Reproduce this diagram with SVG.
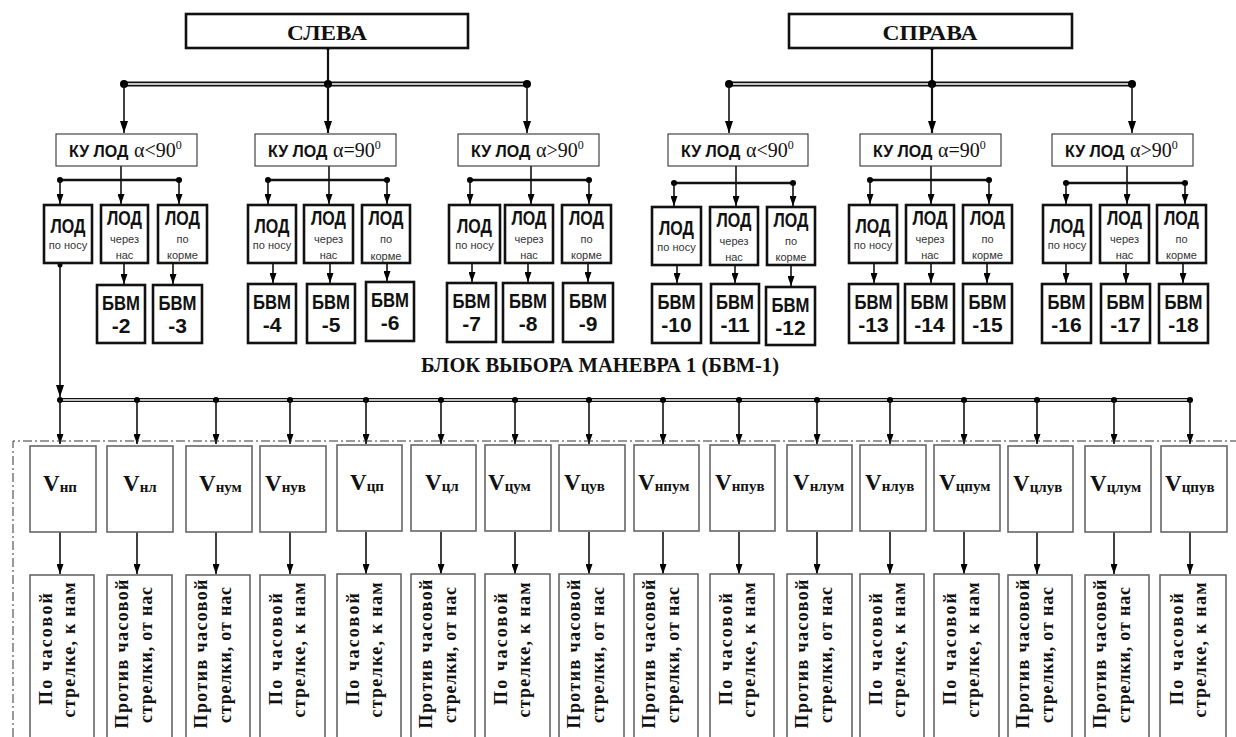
<svg xmlns="http://www.w3.org/2000/svg" width="1236" height="737" viewBox="0 0 1236 737">
<defs>
<style>
.bx2{fill:#fff;stroke:#111;stroke-width:2.6}
.bx1{fill:#fff;stroke:#333;stroke-width:1.1}
.bxv{fill:#fff;stroke:#666;stroke-width:1.6}
.ln{stroke:#111;stroke-width:1.6;fill:none}
.ln2{stroke:#111;stroke-width:2.2;fill:none}
.bus{stroke:#111;stroke-width:2.6;fill:none}
.dbl{stroke:#111;stroke-width:5;fill:none}
.dbls{stroke:#111;stroke-width:4;fill:none}
.dblw{stroke:#fff;stroke-width:1.4;fill:none}
.dot{fill:#000}
.frame{fill:none;stroke:#333;stroke-width:1;stroke-dasharray:9 3 2 3}
.tb{font-family:"Liberation Serif","Times New Roman",serif;font-weight:bold;fill:#111}
.tr{font-family:"Liberation Serif","Times New Roman",serif;font-weight:normal;fill:#111}
.ab{font-family:"Liberation Sans",Arial,sans-serif;font-weight:bold;fill:#111}
.as{font-family:"Liberation Sans",Arial,sans-serif;fill:#333;font-size:11px}
.c{text-anchor:middle}
</style>
<marker id="ah" markerUnits="userSpaceOnUse" markerWidth="12" markerHeight="8" viewBox="0 0 12 8" refX="12" refY="4" orient="auto"><path d="M0,0 L12,4 L0,8 z" fill="#000"/></marker>
<marker id="as" markerUnits="userSpaceOnUse" markerWidth="10" markerHeight="7" viewBox="0 0 10 7" refX="10" refY="3.5" orient="auto"><path d="M0,0 L10,3.5 L0,7 z" fill="#000"/></marker>
</defs>
<rect width="1236" height="737" fill="#fff"/>

<g id="connectors">
  <line class="ln2" x1="328" y1="48" x2="328" y2="84"/>
  <line class="dbl" x1="124" y1="84" x2="527" y2="84"/>
  <line class="dblw" x1="124" y1="84" x2="527" y2="84"/>
  <circle class="dot" cx="328" cy="48" r="2"/>
  <circle class="dot" cx="124" cy="84" r="4"/>
  <circle class="dot" cx="328" cy="84" r="4"/>
  <circle class="dot" cx="527" cy="84" r="4"/>
  <line class="ln" x1="124" y1="84" x2="124" y2="133" marker-end="url(#ah)"/>
  <line class="ln2" x1="328" y1="84" x2="328" y2="133" marker-end="url(#ah)"/>
  <line class="ln" x1="527" y1="84" x2="527" y2="133" marker-end="url(#ah)"/>
  <line class="ln2" x1="932" y1="48" x2="932" y2="84"/>
  <line class="dbl" x1="729" y1="84" x2="1132" y2="84"/>
  <line class="dblw" x1="729" y1="84" x2="1132" y2="84"/>
  <circle class="dot" cx="932" cy="48" r="2"/>
  <circle class="dot" cx="729" cy="84" r="4"/>
  <circle class="dot" cx="932" cy="84" r="4"/>
  <circle class="dot" cx="1132" cy="84" r="4"/>
  <line class="ln" x1="729" y1="84" x2="729" y2="133" marker-end="url(#ah)"/>
  <line class="ln2" x1="932" y1="84" x2="932" y2="133" marker-end="url(#ah)"/>
  <line class="ln" x1="1132" y1="84" x2="1132" y2="133" marker-end="url(#ah)"/>

  <line class="ln" x1="121" y1="166" x2="121" y2="204" marker-end="url(#as)"/>
  <line class="bus" x1="60" y1="180" x2="179" y2="180"/>
  <circle class="dot" cx="60" cy="180" r="3"/><circle class="dot" cx="179" cy="180" r="3"/>
  <line class="ln" x1="60" y1="180" x2="60" y2="204" marker-end="url(#as)"/>
  <line class="ln" x1="179" y1="180" x2="179" y2="204" marker-end="url(#as)"/>

  <line class="ln" x1="329" y1="166" x2="329" y2="204" marker-end="url(#as)"/>
  <line class="bus" x1="268" y1="180" x2="387" y2="180"/>
  <circle class="dot" cx="268" cy="180" r="3"/><circle class="dot" cx="387" cy="180" r="3"/>
  <line class="ln" x1="268" y1="180" x2="268" y2="204" marker-end="url(#as)"/>
  <line class="ln" x1="387" y1="180" x2="387" y2="204" marker-end="url(#as)"/>

  <line class="ln" x1="531" y1="166" x2="531" y2="204" marker-end="url(#as)"/>
  <line class="bus" x1="470" y1="180" x2="589" y2="180"/>
  <circle class="dot" cx="470" cy="180" r="3"/><circle class="dot" cx="589" cy="180" r="3"/>
  <line class="ln" x1="470" y1="180" x2="470" y2="204" marker-end="url(#as)"/>
  <line class="ln" x1="589" y1="180" x2="589" y2="204" marker-end="url(#as)"/>

  <line class="ln" x1="736" y1="166" x2="736" y2="206" marker-end="url(#as)"/>
  <line class="bus" x1="674" y1="183" x2="793" y2="183"/>
  <circle class="dot" cx="674" cy="183" r="3"/><circle class="dot" cx="793" cy="183" r="3"/>
  <line class="ln" x1="674" y1="183" x2="674" y2="206" marker-end="url(#as)"/>
  <line class="ln" x1="793" y1="183" x2="793" y2="206" marker-end="url(#as)"/>

  <line class="ln" x1="931" y1="166" x2="931" y2="204" marker-end="url(#as)"/>
  <line class="bus" x1="870" y1="180" x2="989" y2="180"/>
  <circle class="dot" cx="870" cy="180" r="3"/><circle class="dot" cx="989" cy="180" r="3"/>
  <line class="ln" x1="870" y1="180" x2="870" y2="204" marker-end="url(#as)"/>
  <line class="ln" x1="989" y1="180" x2="989" y2="204" marker-end="url(#as)"/>

  <line class="ln" x1="1127" y1="166" x2="1127" y2="204" marker-end="url(#as)"/>
  <line class="bus" x1="1066" y1="183" x2="1185" y2="183"/>
  <circle class="dot" cx="1066" cy="183" r="3"/><circle class="dot" cx="1185" cy="183" r="3"/>
  <line class="ln" x1="1066" y1="183" x2="1066" y2="204" marker-end="url(#as)"/>
  <line class="ln" x1="1185" y1="183" x2="1185" y2="204" marker-end="url(#as)"/>

  <line class="ln" x1="124" y1="263" x2="124" y2="284" marker-end="url(#as)"/>
  <line class="ln" x1="173" y1="263" x2="173" y2="284" marker-end="url(#as)"/>
  <line class="ln" x1="273" y1="263" x2="273" y2="283" marker-end="url(#as)"/>
  <line class="ln" x1="330" y1="263" x2="330" y2="283" marker-end="url(#as)"/>
  <line class="ln" x1="387" y1="263" x2="387" y2="281" marker-end="url(#as)"/>
  <line class="ln" x1="472" y1="263" x2="472" y2="282" marker-end="url(#as)"/>
  <line class="ln" x1="528" y1="263" x2="528" y2="282" marker-end="url(#as)"/>
  <line class="ln" x1="588" y1="263" x2="588" y2="282" marker-end="url(#as)"/>
  <line class="ln" x1="677" y1="265" x2="677" y2="283" marker-end="url(#as)"/>
  <line class="ln" x1="735" y1="265" x2="735" y2="283" marker-end="url(#as)"/>
  <line class="ln" x1="791" y1="265" x2="791" y2="286" marker-end="url(#as)"/>
  <line class="ln" x1="874" y1="263" x2="874" y2="283" marker-end="url(#as)"/>
  <line class="ln" x1="931" y1="263" x2="931" y2="283" marker-end="url(#as)"/>
  <line class="ln" x1="987" y1="263" x2="987" y2="283" marker-end="url(#as)"/>
  <line class="ln" x1="1066" y1="263" x2="1066" y2="283" marker-end="url(#as)"/>
  <line class="ln" x1="1126" y1="263" x2="1126" y2="283" marker-end="url(#as)"/>
  <line class="ln" x1="1183" y1="263" x2="1183" y2="283" marker-end="url(#as)"/>

  <circle class="dot" cx="60" cy="265" r="2.5"/>
  <line class="ln" x1="60" y1="265" x2="60" y2="397" marker-end="url(#ah)"/>

  <line class="dbls" x1="60" y1="400" x2="1191" y2="400"/>
  <line class="dblw" x1="60" y1="400" x2="1191" y2="400"/>
  <g>
    <circle class="dot" cx="60" cy="400" r="3"/><circle class="dot" cx="137" cy="400" r="3"/><circle class="dot" cx="216" cy="400" r="3"/><circle class="dot" cx="290" cy="400" r="3"/>
    <circle class="dot" cx="366" cy="400" r="3"/><circle class="dot" cx="441" cy="400" r="3"/><circle class="dot" cx="515" cy="400" r="3"/><circle class="dot" cx="589" cy="400" r="3"/>
    <circle class="dot" cx="663" cy="400" r="3"/><circle class="dot" cx="739" cy="400" r="3"/><circle class="dot" cx="817" cy="400" r="3"/><circle class="dot" cx="890" cy="400" r="3"/>
    <circle class="dot" cx="964" cy="400" r="3"/><circle class="dot" cx="1037" cy="400" r="3"/><circle class="dot" cx="1114" cy="400" r="3"/><circle class="dot" cx="1190" cy="400" r="3"/>
  </g>
  <g>
    <line class="ln" x1="60" y1="400" x2="60" y2="444" marker-end="url(#as)"/>
    <line class="ln" x1="137" y1="400" x2="137" y2="444" marker-end="url(#as)"/>
    <line class="ln" x1="216" y1="400" x2="216" y2="444" marker-end="url(#as)"/>
    <line class="ln" x1="290" y1="400" x2="290" y2="444" marker-end="url(#as)"/>
    <line class="ln" x1="366" y1="400" x2="366" y2="444" marker-end="url(#as)"/>
    <line class="ln" x1="441" y1="400" x2="441" y2="444" marker-end="url(#as)"/>
    <line class="ln" x1="515" y1="400" x2="515" y2="444" marker-end="url(#as)"/>
    <line class="ln" x1="589" y1="400" x2="589" y2="444" marker-end="url(#as)"/>
    <line class="ln" x1="663" y1="400" x2="663" y2="444" marker-end="url(#as)"/>
    <line class="ln" x1="739" y1="400" x2="739" y2="444" marker-end="url(#as)"/>
    <line class="ln" x1="817" y1="400" x2="817" y2="444" marker-end="url(#as)"/>
    <line class="ln" x1="890" y1="400" x2="890" y2="444" marker-end="url(#as)"/>
    <line class="ln" x1="964" y1="400" x2="964" y2="444" marker-end="url(#as)"/>
    <line class="ln" x1="1037" y1="400" x2="1037" y2="444" marker-end="url(#as)"/>
    <line class="ln" x1="1114" y1="400" x2="1114" y2="444" marker-end="url(#as)"/>
    <line class="ln" x1="1190" y1="400" x2="1190" y2="444" marker-end="url(#as)"/>
  </g>
  <g>
    <line class="ln" x1="60" y1="532" x2="60" y2="574" marker-end="url(#as)"/>
    <line class="ln" x1="137" y1="532" x2="137" y2="574" marker-end="url(#as)"/>
    <line class="ln" x1="216" y1="532" x2="216" y2="574" marker-end="url(#as)"/>
    <line class="ln" x1="290" y1="532" x2="290" y2="574" marker-end="url(#as)"/>
    <line class="ln" x1="366" y1="532" x2="366" y2="574" marker-end="url(#as)"/>
    <line class="ln" x1="441" y1="532" x2="441" y2="574" marker-end="url(#as)"/>
    <line class="ln" x1="515" y1="532" x2="515" y2="574" marker-end="url(#as)"/>
    <line class="ln" x1="589" y1="532" x2="589" y2="574" marker-end="url(#as)"/>
    <line class="ln" x1="663" y1="532" x2="663" y2="574" marker-end="url(#as)"/>
    <line class="ln" x1="739" y1="532" x2="739" y2="574" marker-end="url(#as)"/>
    <line class="ln" x1="817" y1="532" x2="817" y2="574" marker-end="url(#as)"/>
    <line class="ln" x1="890" y1="532" x2="890" y2="574" marker-end="url(#as)"/>
    <line class="ln" x1="964" y1="532" x2="964" y2="574" marker-end="url(#as)"/>
    <line class="ln" x1="1037" y1="532" x2="1037" y2="574" marker-end="url(#as)"/>
    <line class="ln" x1="1114" y1="532" x2="1114" y2="574" marker-end="url(#as)"/>
    <line class="ln" x1="1190" y1="532" x2="1190" y2="574" marker-end="url(#as)"/>
  </g>
</g>

<path id="frame" class="frame" d="M13,737 L13,441 L1236,441"/>

<g id="sleva"><rect class="bx2" x="186" y="14" width="282" height="34"/><text class="tb c" x="327" y="40" font-size="21" textLength="80" lengthAdjust="spacingAndGlyphs">СЛЕВА</text></g>
<g id="sprava"><rect class="bx2" x="789" y="14" width="283" height="34"/><text class="tb c" x="930" y="40" font-size="21" textLength="95" lengthAdjust="spacingAndGlyphs">СПРАВА</text></g>

<g id="ku1"><rect class="bx1" x="56" y="134" width="141" height="32"/><text x="69" y="157"><tspan class="ab" font-size="16">КУ ЛОД</tspan><tspan class="tr" font-size="20" x="134">α&lt;90</tspan><tspan class="tr" font-size="12" dy="-8">0</tspan></text></g>
<g id="ku2"><rect class="bx1" x="255" y="134" width="141" height="32"/><text x="268" y="157"><tspan class="ab" font-size="16">КУ ЛОД</tspan><tspan class="tr" font-size="20" x="333">α=90</tspan><tspan class="tr" font-size="12" dy="-8">0</tspan></text></g>
<g id="ku3"><rect class="bx1" x="458" y="134" width="141" height="32"/><text x="471" y="157"><tspan class="ab" font-size="16">КУ ЛОД</tspan><tspan class="tr" font-size="20" x="536">α&gt;90</tspan><tspan class="tr" font-size="12" dy="-8">0</tspan></text></g>
<g id="ku4"><rect class="bx1" x="668" y="134" width="140" height="32"/><text x="681" y="157"><tspan class="ab" font-size="16">КУ ЛОД</tspan><tspan class="tr" font-size="20" x="746">α&lt;90</tspan><tspan class="tr" font-size="12" dy="-8">0</tspan></text></g>
<g id="ku5"><rect class="bx1" x="860" y="134" width="141" height="32"/><text x="873" y="157"><tspan class="ab" font-size="16">КУ ЛОД</tspan><tspan class="tr" font-size="20" x="938">α=90</tspan><tspan class="tr" font-size="12" dy="-8">0</tspan></text></g>
<g id="ku6"><rect class="bx1" x="1052" y="134" width="141" height="32"/><text x="1065" y="157"><tspan class="ab" font-size="16">КУ ЛОД</tspan><tspan class="tr" font-size="20" x="1130">α&gt;90</tspan><tspan class="tr" font-size="12" dy="-8">0</tspan></text></g>

<g id="lod1n"><rect class="bx2" x="44" y="205" width="48" height="58"/><text class="ab c" x="68" y="233" font-size="21" textLength="35" lengthAdjust="spacingAndGlyphs">ЛОД</text><text class="as c" x="68" y="249">по носу</text></g>
<g id="lod1c"><rect class="bx2" x="101" y="205" width="47" height="58"/><text class="ab c" x="124.5" y="225" font-size="21" textLength="35" lengthAdjust="spacingAndGlyphs">ЛОД</text><text class="as c" x="124.5" y="243">через</text><text class="as c" x="124.5" y="259">нас</text></g>
<g id="lod1k"><rect class="bx2" x="158" y="205" width="49" height="58"/><text class="ab c" x="182.5" y="225" font-size="21" textLength="35" lengthAdjust="spacingAndGlyphs">ЛОД</text><text class="as c" x="182.5" y="243">по</text><text class="as c" x="182.5" y="259">корме</text></g>

<g id="lod2n"><rect class="bx2" x="248" y="205" width="48" height="58"/><text class="ab c" x="272" y="233" font-size="21" textLength="35" lengthAdjust="spacingAndGlyphs">ЛОД</text><text class="as c" x="272" y="249">по носу</text></g>
<g id="lod2c"><rect class="bx2" x="304" y="205" width="49" height="58"/><text class="ab c" x="328.5" y="225" font-size="21" textLength="35" lengthAdjust="spacingAndGlyphs">ЛОД</text><text class="as c" x="328.5" y="243">через</text><text class="as c" x="328.5" y="259">нас</text></g>
<g id="lod2k"><rect class="bx2" x="362" y="205" width="48" height="58"/><text class="ab c" x="386" y="225" font-size="21" textLength="35" lengthAdjust="spacingAndGlyphs">ЛОД</text><text class="as c" x="386" y="243">по</text><text class="as c" x="386" y="260">корме</text></g>

<g id="lod3n"><rect class="bx2" x="449" y="205" width="51" height="58"/><text class="ab c" x="474.5" y="233" font-size="21" textLength="35" lengthAdjust="spacingAndGlyphs">ЛОД</text><text class="as c" x="474.5" y="249">по носу</text></g>
<g id="lod3c"><rect class="bx2" x="505" y="205" width="48" height="58"/><text class="ab c" x="529" y="225" font-size="21" textLength="35" lengthAdjust="spacingAndGlyphs">ЛОД</text><text class="as c" x="529" y="243">через</text><text class="as c" x="529" y="259">нас</text></g>
<g id="lod3k"><rect class="bx2" x="562" y="205" width="49" height="58"/><text class="ab c" x="586.5" y="225" font-size="21" textLength="35" lengthAdjust="spacingAndGlyphs">ЛОД</text><text class="as c" x="586.5" y="243">по</text><text class="as c" x="586.5" y="259">корме</text></g>

<g id="lod4n"><rect class="bx2" x="652" y="207" width="49" height="58"/><text class="ab c" x="676.5" y="235" font-size="21" textLength="35" lengthAdjust="spacingAndGlyphs">ЛОД</text><text class="as c" x="676.5" y="251">по носу</text></g>
<g id="lod4c"><rect class="bx2" x="710" y="207" width="48" height="58"/><text class="ab c" x="734" y="227" font-size="21" textLength="35" lengthAdjust="spacingAndGlyphs">ЛОД</text><text class="as c" x="734" y="245">через</text><text class="as c" x="734" y="261">нас</text></g>
<g id="lod4k"><rect class="bx2" x="767" y="207" width="48" height="58"/><text class="ab c" x="791" y="227" font-size="21" textLength="35" lengthAdjust="spacingAndGlyphs">ЛОД</text><text class="as c" x="791" y="245">по</text><text class="as c" x="791" y="261">корме</text></g>

<g id="lod5n"><rect class="bx2" x="849" y="205" width="48" height="58"/><text class="ab c" x="873" y="233" font-size="21" textLength="35" lengthAdjust="spacingAndGlyphs">ЛОД</text><text class="as c" x="873" y="249">по носу</text></g>
<g id="lod5c"><rect class="bx2" x="906" y="205" width="48" height="58"/><text class="ab c" x="930" y="225" font-size="21" textLength="35" lengthAdjust="spacingAndGlyphs">ЛОД</text><text class="as c" x="930" y="243">через</text><text class="as c" x="930" y="259">нас</text></g>
<g id="lod5k"><rect class="bx2" x="963" y="205" width="49" height="58"/><text class="ab c" x="987.5" y="225" font-size="21" textLength="35" lengthAdjust="spacingAndGlyphs">ЛОД</text><text class="as c" x="987.5" y="243">по</text><text class="as c" x="987.5" y="259">корме</text></g>

<g id="lod6n"><rect class="bx2" x="1043" y="205" width="48" height="58"/><text class="ab c" x="1067" y="233" font-size="21" textLength="35" lengthAdjust="spacingAndGlyphs">ЛОД</text><text class="as c" x="1067" y="249">по носу</text></g>
<g id="lod6c"><rect class="bx2" x="1100" y="205" width="49" height="58"/><text class="ab c" x="1124.5" y="225" font-size="21" textLength="35" lengthAdjust="spacingAndGlyphs">ЛОД</text><text class="as c" x="1124.5" y="243">через</text><text class="as c" x="1124.5" y="259">нас</text></g>
<g id="lod6k"><rect class="bx2" x="1157" y="205" width="49" height="58"/><text class="ab c" x="1181.5" y="225" font-size="21" textLength="35" lengthAdjust="spacingAndGlyphs">ЛОД</text><text class="as c" x="1181.5" y="243">по</text><text class="as c" x="1181.5" y="259">корме</text></g>

<g id="bvm2"><rect class="bx2" x="97" y="285" width="48" height="58"/><text class="ab c" x="121" y="310" font-size="21" textLength="38" lengthAdjust="spacingAndGlyphs">БВМ</text><text class="ab c" x="121" y="333" font-size="21">-2</text></g>
<g id="bvm3"><rect class="bx2" x="153" y="285" width="49" height="58"/><text class="ab c" x="177.5" y="310" font-size="21" textLength="38" lengthAdjust="spacingAndGlyphs">БВМ</text><text class="ab c" x="177.5" y="333" font-size="21">-3</text></g>
<g id="bvm4"><rect class="bx2" x="248" y="284" width="48" height="59"/><text class="ab c" x="272" y="309" font-size="21" textLength="38" lengthAdjust="spacingAndGlyphs">БВМ</text><text class="ab c" x="272" y="332" font-size="21">-4</text></g>
<g id="bvm5"><rect class="bx2" x="307" y="284" width="48" height="59"/><text class="ab c" x="331" y="309" font-size="21" textLength="38" lengthAdjust="spacingAndGlyphs">БВМ</text><text class="ab c" x="331" y="332" font-size="21">-5</text></g>
<g id="bvm6"><rect class="bx2" x="366" y="282" width="48" height="59"/><text class="ab c" x="390" y="307" font-size="21" textLength="38" lengthAdjust="spacingAndGlyphs">БВМ</text><text class="ab c" x="390" y="330" font-size="21">-6</text></g>
<g id="bvm7"><rect class="bx2" x="447" y="283" width="49" height="59"/><text class="ab c" x="471.5" y="308" font-size="21" textLength="38" lengthAdjust="spacingAndGlyphs">БВМ</text><text class="ab c" x="471.5" y="331" font-size="21">-7</text></g>
<g id="bvm8"><rect class="bx2" x="503" y="283" width="50" height="59"/><text class="ab c" x="528" y="308" font-size="21" textLength="38" lengthAdjust="spacingAndGlyphs">БВМ</text><text class="ab c" x="528" y="331" font-size="21">-8</text></g>
<g id="bvm9"><rect class="bx2" x="563" y="283" width="50" height="59"/><text class="ab c" x="588" y="308" font-size="21" textLength="38" lengthAdjust="spacingAndGlyphs">БВМ</text><text class="ab c" x="588" y="331" font-size="21">-9</text></g>
<g id="bvm10"><rect class="bx2" x="652" y="284" width="49" height="59"/><text class="ab c" x="676.5" y="309" font-size="21" textLength="38" lengthAdjust="spacingAndGlyphs">БВМ</text><text class="ab c" x="676.5" y="332" font-size="21">-10</text></g>
<g id="bvm11"><rect class="bx2" x="711" y="284" width="48" height="59"/><text class="ab c" x="735" y="309" font-size="21" textLength="38" lengthAdjust="spacingAndGlyphs">БВМ</text><text class="ab c" x="735" y="332" font-size="21">-11</text></g>
<g id="bvm12"><rect class="bx2" x="766" y="287" width="49" height="58"/><text class="ab c" x="790.5" y="312" font-size="21" textLength="38" lengthAdjust="spacingAndGlyphs">БВМ</text><text class="ab c" x="790.5" y="335" font-size="21">-12</text></g>
<g id="bvm13"><rect class="bx2" x="849" y="284" width="49" height="59"/><text class="ab c" x="873.5" y="309" font-size="21" textLength="38" lengthAdjust="spacingAndGlyphs">БВМ</text><text class="ab c" x="873.5" y="332" font-size="21">-13</text></g>
<g id="bvm14"><rect class="bx2" x="905" y="284" width="49" height="59"/><text class="ab c" x="929.5" y="309" font-size="21" textLength="38" lengthAdjust="spacingAndGlyphs">БВМ</text><text class="ab c" x="929.5" y="332" font-size="21">-14</text></g>
<g id="bvm15"><rect class="bx2" x="963" y="284" width="49" height="59"/><text class="ab c" x="987.5" y="309" font-size="21" textLength="38" lengthAdjust="spacingAndGlyphs">БВМ</text><text class="ab c" x="987.5" y="332" font-size="21">-15</text></g>
<g id="bvm16"><rect class="bx2" x="1042" y="284" width="49" height="59"/><text class="ab c" x="1066.5" y="309" font-size="21" textLength="38" lengthAdjust="spacingAndGlyphs">БВМ</text><text class="ab c" x="1066.5" y="332" font-size="21">-16</text></g>
<g id="bvm17"><rect class="bx2" x="1101" y="284" width="49" height="59"/><text class="ab c" x="1125.5" y="309" font-size="21" textLength="38" lengthAdjust="spacingAndGlyphs">БВМ</text><text class="ab c" x="1125.5" y="332" font-size="21">-17</text></g>
<g id="bvm18"><rect class="bx2" x="1159" y="284" width="49" height="59"/><text class="ab c" x="1183.5" y="309" font-size="21" textLength="38" lengthAdjust="spacingAndGlyphs">БВМ</text><text class="ab c" x="1183.5" y="332" font-size="21">-18</text></g>

<g id="title"><text class="tb" x="421" y="372" font-size="20" textLength="358" lengthAdjust="spacingAndGlyphs">БЛОК ВЫБОРА МАНЕВРА 1 (БВМ-1)</text></g>

<g id="v1"><rect class="bxv" x="30" y="446" width="66" height="86"/><text class="tb" x="43" y="491" font-size="23">V<tspan font-size="15" dy="1">нп</tspan></text></g>
<g id="v2"><rect class="bxv" x="107" y="446" width="66" height="86"/><text class="tb" x="123" y="491" font-size="23">V<tspan font-size="15" dy="1">нл</tspan></text></g>
<g id="v3"><rect class="bxv" x="186" y="446" width="66" height="86"/><text class="tb" x="199" y="491" font-size="23">V<tspan font-size="15" dy="1">нум</tspan></text></g>
<g id="v4"><rect class="bxv" x="260" y="446" width="66" height="86"/><text class="tb" x="265" y="491" font-size="23">V<tspan font-size="15" dy="1">нув</tspan></text></g>
<g id="v5"><rect class="bxv" x="337" y="445" width="65" height="86"/><text class="tb" x="350" y="490" font-size="23">V<tspan font-size="15" dy="1">цп</tspan></text></g>
<g id="v6"><rect class="bxv" x="411" y="445" width="65" height="86"/><text class="tb" x="425" y="490" font-size="23">V<tspan font-size="15" dy="1">цл</tspan></text></g>
<g id="v7"><rect class="bxv" x="485" y="445" width="66" height="86"/><text class="tb" x="488" y="490" font-size="23">V<tspan font-size="15" dy="1">цум</tspan></text></g>
<g id="v8"><rect class="bxv" x="559" y="445" width="66" height="86"/><text class="tb" x="564" y="490" font-size="23">V<tspan font-size="15" dy="1">цув</tspan></text></g>
<g id="v9"><rect class="bxv" x="634" y="445" width="65" height="86"/><text class="tb" x="638" y="490" font-size="23">V<tspan font-size="15" dy="1">нпум</tspan></text></g>
<g id="v10"><rect class="bxv" x="710" y="445" width="65" height="86"/><text class="tb" x="715" y="490" font-size="23">V<tspan font-size="15" dy="1">нпув</tspan></text></g>
<g id="v11"><rect class="bxv" x="787" y="445" width="65" height="86"/><text class="tb" x="793" y="490" font-size="23">V<tspan font-size="15" dy="1">нлум</tspan></text></g>
<g id="v12"><rect class="bxv" x="860" y="445" width="66" height="86"/><text class="tb" x="865" y="490" font-size="23">V<tspan font-size="15" dy="1">нлув</tspan></text></g>
<g id="v13"><rect class="bxv" x="934" y="445" width="66" height="86"/><text class="tb" x="939" y="490" font-size="23">V<tspan font-size="15" dy="1">цпум</tspan></text></g>
<g id="v14"><rect class="bxv" x="1008" y="446" width="65" height="86"/><text class="tb" x="1013" y="491" font-size="23">V<tspan font-size="15" dy="1">цлув</tspan></text></g>
<g id="v15"><rect class="bxv" x="1085" y="446" width="66" height="86"/><text class="tb" x="1090" y="491" font-size="23">V<tspan font-size="15" dy="1">цлум</tspan></text></g>
<g id="v16"><rect class="bxv" x="1161" y="446" width="66" height="86"/><text class="tb" x="1165" y="491" font-size="23">V<tspan font-size="15" dy="1">цпув</tspan></text></g>

<g id="d1"><rect class="bxv" x="30" y="575" width="64" height="175"/><text class="tb c" font-size="18" transform="translate(52,649) rotate(-90)" textLength="112" lengthAdjust="spacing">По часовой</text><text class="tb c" font-size="18" transform="translate(75,650) rotate(-90)" textLength="135" lengthAdjust="spacing">стрелке, к нам</text></g>
<g id="d2"><rect class="bxv" x="107" y="575" width="65" height="175"/><text class="tb c" font-size="18" transform="translate(128,654) rotate(-90)" textLength="149" lengthAdjust="spacing">Против часовой</text><text class="tb c" font-size="18" transform="translate(152,655) rotate(-90)" textLength="136" lengthAdjust="spacing">стрелки, от нас</text></g>
<g id="d3"><rect class="bxv" x="186" y="575" width="64" height="175"/><text class="tb c" font-size="18" transform="translate(207,654) rotate(-90)" textLength="149" lengthAdjust="spacing">Против часовой</text><text class="tb c" font-size="18" transform="translate(231,655) rotate(-90)" textLength="136" lengthAdjust="spacing">стрелки, от нас</text></g>
<g id="d4"><rect class="bxv" x="260" y="575" width="65" height="175"/><text class="tb c" font-size="18" transform="translate(282,649) rotate(-90)" textLength="112" lengthAdjust="spacing">По часовой</text><text class="tb c" font-size="18" transform="translate(305,650) rotate(-90)" textLength="135" lengthAdjust="spacing">стрелке, к нам</text></g>
<g id="d5"><rect class="bxv" x="337" y="574" width="64" height="176"/><text class="tb c" font-size="18" transform="translate(359,649) rotate(-90)" textLength="112" lengthAdjust="spacing">По часовой</text><text class="tb c" font-size="18" transform="translate(382,650) rotate(-90)" textLength="135" lengthAdjust="spacing">стрелке, к нам</text></g>
<g id="d6"><rect class="bxv" x="411" y="574" width="64" height="176"/><text class="tb c" font-size="18" transform="translate(432,654) rotate(-90)" textLength="149" lengthAdjust="spacing">Против часовой</text><text class="tb c" font-size="18" transform="translate(456,655) rotate(-90)" textLength="136" lengthAdjust="spacing">стрелки, от нас</text></g>
<g id="d7"><rect class="bxv" x="485" y="574" width="65" height="176"/><text class="tb c" font-size="18" transform="translate(507,649) rotate(-90)" textLength="112" lengthAdjust="spacing">По часовой</text><text class="tb c" font-size="18" transform="translate(530,650) rotate(-90)" textLength="135" lengthAdjust="spacing">стрелке, к нам</text></g>
<g id="d8"><rect class="bxv" x="559" y="574" width="65" height="176"/><text class="tb c" font-size="18" transform="translate(580,654) rotate(-90)" textLength="149" lengthAdjust="spacing">Против часовой</text><text class="tb c" font-size="18" transform="translate(604,655) rotate(-90)" textLength="136" lengthAdjust="spacing">стрелки, от нас</text></g>
<g id="d9"><rect class="bxv" x="634" y="574" width="64" height="176"/><text class="tb c" font-size="18" transform="translate(655,654) rotate(-90)" textLength="149" lengthAdjust="spacing">Против часовой</text><text class="tb c" font-size="18" transform="translate(679,655) rotate(-90)" textLength="136" lengthAdjust="spacing">стрелки, от нас</text></g>
<g id="d10"><rect class="bxv" x="710" y="574" width="64" height="176"/><text class="tb c" font-size="18" transform="translate(732,649) rotate(-90)" textLength="112" lengthAdjust="spacing">По часовой</text><text class="tb c" font-size="18" transform="translate(755,650) rotate(-90)" textLength="135" lengthAdjust="spacing">стрелке, к нам</text></g>
<g id="d11"><rect class="bxv" x="787" y="574" width="65" height="176"/><text class="tb c" font-size="18" transform="translate(808,654) rotate(-90)" textLength="149" lengthAdjust="spacing">Против часовой</text><text class="tb c" font-size="18" transform="translate(832,655) rotate(-90)" textLength="136" lengthAdjust="spacing">стрелки, от нас</text></g>
<g id="d12"><rect class="bxv" x="860" y="574" width="64" height="176"/><text class="tb c" font-size="18" transform="translate(882,649) rotate(-90)" textLength="112" lengthAdjust="spacing">По часовой</text><text class="tb c" font-size="18" transform="translate(905,650) rotate(-90)" textLength="135" lengthAdjust="spacing">стрелке, к нам</text></g>
<g id="d13"><rect class="bxv" x="934" y="574" width="65" height="176"/><text class="tb c" font-size="18" transform="translate(956,649) rotate(-90)" textLength="112" lengthAdjust="spacing">По часовой</text><text class="tb c" font-size="18" transform="translate(979,650) rotate(-90)" textLength="135" lengthAdjust="spacing">стрелке, к нам</text></g>
<g id="d14"><rect class="bxv" x="1008" y="575" width="64" height="175"/><text class="tb c" font-size="18" transform="translate(1029,654) rotate(-90)" textLength="149" lengthAdjust="spacing">Против часовой</text><text class="tb c" font-size="18" transform="translate(1053,655) rotate(-90)" textLength="136" lengthAdjust="spacing">стрелки, от нас</text></g>
<g id="d15"><rect class="bxv" x="1085" y="575" width="64" height="175"/><text class="tb c" font-size="18" transform="translate(1106,654) rotate(-90)" textLength="149" lengthAdjust="spacing">Против часовой</text><text class="tb c" font-size="18" transform="translate(1130,655) rotate(-90)" textLength="136" lengthAdjust="spacing">стрелки, от нас</text></g>
<g id="d16"><rect class="bxv" x="1160" y="575" width="66" height="175"/><text class="tb c" font-size="18" transform="translate(1183,649) rotate(-90)" textLength="112" lengthAdjust="spacing">По часовой</text><text class="tb c" font-size="18" transform="translate(1206,650) rotate(-90)" textLength="135" lengthAdjust="spacing">стрелке, к нам</text></g>
</svg>
